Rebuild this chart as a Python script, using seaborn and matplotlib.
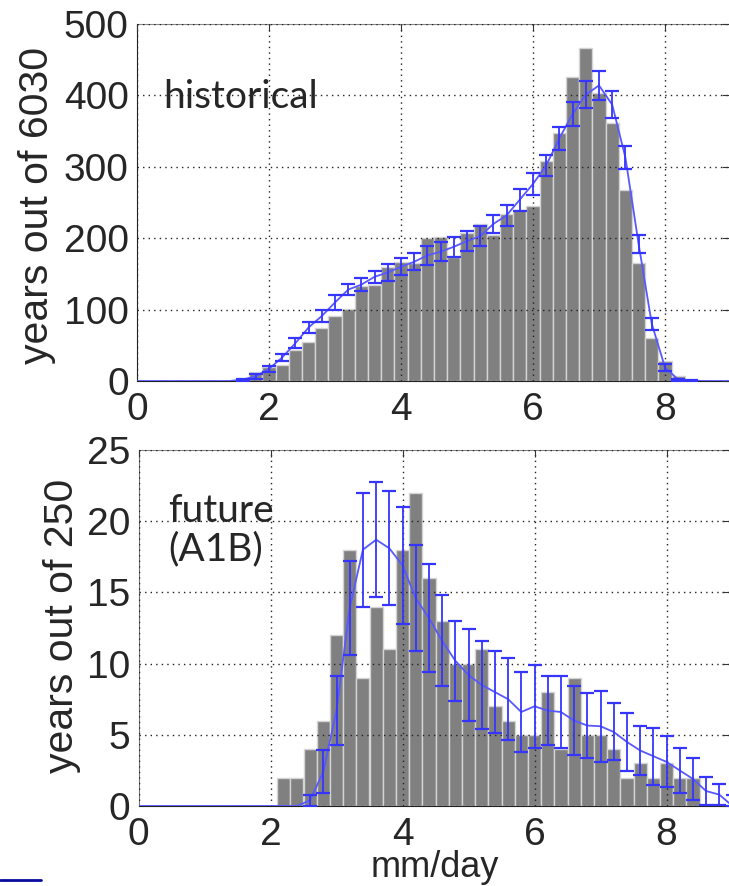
import numpy as np
import pandas as pd
import matplotlib
matplotlib.use('Agg')
import matplotlib.pyplot as plt
import seaborn as sns
from matplotlib.lines import Line2D

# Data (bin width 0.2 mm/day)
top_x = [1.6, 1.8, 2.0, 2.2, 2.4, 2.6, 2.8, 3.0, 3.2, 3.4, 3.6, 3.8,
         4.0, 4.2, 4.4, 4.6, 4.8, 5.0, 5.2, 5.4, 5.6, 5.8, 6.0, 6.2,
         6.4, 6.6, 6.8, 7.0, 7.2, 7.4, 7.6, 7.8, 8.0, 8.2, 8.4]
top_counts = [2, 12, 20, 23, 43, 54, 74, 91, 101, 133, 134, 160,
              166, 165, 200, 202, 173, 207, 220, 204, 234, 239, 245, 308,
              348, 426, 467, 403, 362, 267, 165, 60, 28, 7, 2]
top_mean = [2, 6.5, 17, 33, 53, 75, 91, 110, 128, 135, 146, 152,
            160, 167, 176, 181, 188, 196, 203, 220, 232, 254, 276, 302,
            340, 374, 401, 414, 387, 313, 192, 80, 19, 2, 0.5]
top_err = [1.5, 3.5, 3.7, 5.2, 7.0, 8.2, 8.2, 10.5, 7.5, 8.7, 8.7, 11.7,
           11.7, 12.2, 13.6, 13.6, 13.8, 13.6, 13.6, 13.1, 14.8, 15.5, 15.2, 14.8,
           16.2, 16.4, 18.5, 19.9, 18.5, 16.4, 12.4, 8.7, 4.4, 1.5, 0.5]

low_x = [2.2, 2.4, 2.6, 2.8, 3.0, 3.2, 3.4, 3.6, 3.8, 4.0, 4.2, 4.4,
         4.6, 4.8, 5.0, 5.2, 5.4, 5.6, 5.8, 6.0, 6.2, 6.4, 6.6, 6.8,
         7.0, 7.2, 7.4, 7.6, 7.8, 8.0, 8.2, 8.4]
low_counts = [2, 2, 4, 6, 12, 18, 9, 14, 11, 18, 22, 16,
              13, 10, 10, 11, 7, 6, 5, 5, 8, 4, 9, 5,
              5, 4, 2, 3, 2, 3, 2, 2]
low_mean_x = [2.6, 2.8, 3.0, 3.2, 3.4, 3.6, 3.8, 4.0, 4.2, 4.4, 4.6, 4.8,
              5.0, 5.2, 5.4, 5.6, 5.8, 6.0, 6.2, 6.4, 6.6, 6.8, 7.0, 7.2,
              7.4, 7.6, 7.8, 8.0, 8.2, 8.4, 8.6, 8.8, 9.0]
low_mean = [0.4, 2.4, 6.7, 13.9, 18.0, 18.7, 18.1, 16.9, 14.6, 13.2, 11.6, 10.2,
            9.2, 8.5, 8.0, 7.5, 6.6, 7.0, 6.7, 6.6, 6.0, 5.65, 5.6, 5.2,
            4.5, 3.9, 3.5, 3.1, 2.5, 1.9, 1.05, 0.8, 0.4]
low_err = [0.4, 1.5, 2.4, 3.3, 4.0, 4.05, 4.0, 4.1, 3.7, 3.8, 3.2, 2.8,
           3.2, 3.1, 2.9, 2.9, 2.8, 2.9, 2.4, 2.5, 2.4, 2.3, 2.5, 2.0,
           2.05, 1.7, 2.0, 1.8, 1.6, 1.5, 1.0, 0.75, 0.4]

sns.set_style('white')
plt.rcParams['font.family'] = ['Liberation Sans', 'DejaVu Sans']

BAR = '#808080'
BLUE = '#3535ff'
LINE = '#5858ff'
TICK_FS = 28


def draw_panel(ax, xs, counts, mx, mean, err, ylim, yticks, xmax):
    df = pd.DataFrame({'mm': xs, 'n': counts})
    edges = [round(v - 0.1, 2) for v in xs] + [round(xs[-1] + 0.1, 2)]
    sns.histplot(data=df, x='mm', weights='n', bins=edges, color=BAR, alpha=1,
                 edgecolor='#d4d4d4', linewidth=1, ax=ax, zorder=1)
    # flat zero segments either side of the mean curve
    lx = [0.0, mx[0] - 0.2] + list(mx) + [mx[-1] + 0.2, 9.0]
    ly = [0, 0] + list(mean) + [0, 0]
    sns.lineplot(x=lx, y=ly, color=LINE, lw=1.3, estimator=None, ax=ax, zorder=3)
    ax.errorbar(mx, mean, yerr=err, fmt='none', ecolor=BLUE, elinewidth=1.3,
                capsize=4.7, capthick=1.6, zorder=4)
    ax.set_xlim(0, xmax)
    ax.set_ylim(*ylim)
    ax.set_xticks([0, 2, 4, 6, 8])
    ax.set_yticks(yticks)
    ax.set_ylabel('')
    ax.set_xlabel('')
    ax.grid(True, linestyle=(0, (1, 3)), color='#222222', linewidth=1.0)
    ax.set_axisbelow(False)
    ax.tick_params(direction='in', length=5, top=True, right=True,
                   labelsize=TICK_FS, color='#333333')
    ax.tick_params(axis='x', pad=8)
    ax.tick_params(axis='y', pad=6)
    ax.spines['right'].set_visible(False)
    ax.spines['top'].set_color('#888888')
    ax.spines['left'].set_color('#222222')
    ax.spines['bottom'].set_color('#222222')


fig = plt.figure(figsize=(7.29, 8.86), dpi=100)

ax1 = fig.add_axes([137 / 729, 1 - 381 / 886, 592 / 729, 357 / 886])
draw_panel(ax1, top_x, top_counts, top_x, top_mean, top_err,
           (0, 500), [0, 100, 200, 300, 400, 500], 592 / 66.0)
ax1.text(0.044, 0.795, 'historical', transform=ax1.transAxes, fontsize=28,
         family=['Lato', 'DejaVu Sans'], ha='left', va='center')

ax2 = fig.add_axes([138.5 / 729, 1 - 806 / 886, 590.5 / 729, 356 / 886])
draw_panel(ax2, low_x, low_counts, low_mean_x, low_mean, low_err,
           (0, 25), [0, 5, 10, 15, 20, 25], 590.5 / 66.0)
ax2.spines['left'].set_color('#777777')
ax2.text(0.05, 0.775, 'future\n(A1B)', transform=ax2.transAxes, fontsize=28,
         family=['Lato', 'DejaVu Sans'], ha='left', va='center', linespacing=1.1)

fig.text(435 / 729, 1 / 886, 'mm/day', fontsize=26, ha='center', va='bottom')
fig.text(37 / 729, 1 - 205 / 886, 'years out of 6030', rotation=90,
         fontsize=29.5, ha='center', va='center')
fig.text(62 / 729, 1 - 626 / 886, 'years out of 250', rotation=90,
         fontsize=29.5, ha='center', va='center')

# small blue mark at the lower left of the slide
fig.add_artist(Line2D([0, 41 / 729], [1 - 880 / 886, 1 - 880 / 886],
                      transform=fig.transFigure, color='#0a0aa0', lw=2))

fig.savefig('out.png', dpi=100)
